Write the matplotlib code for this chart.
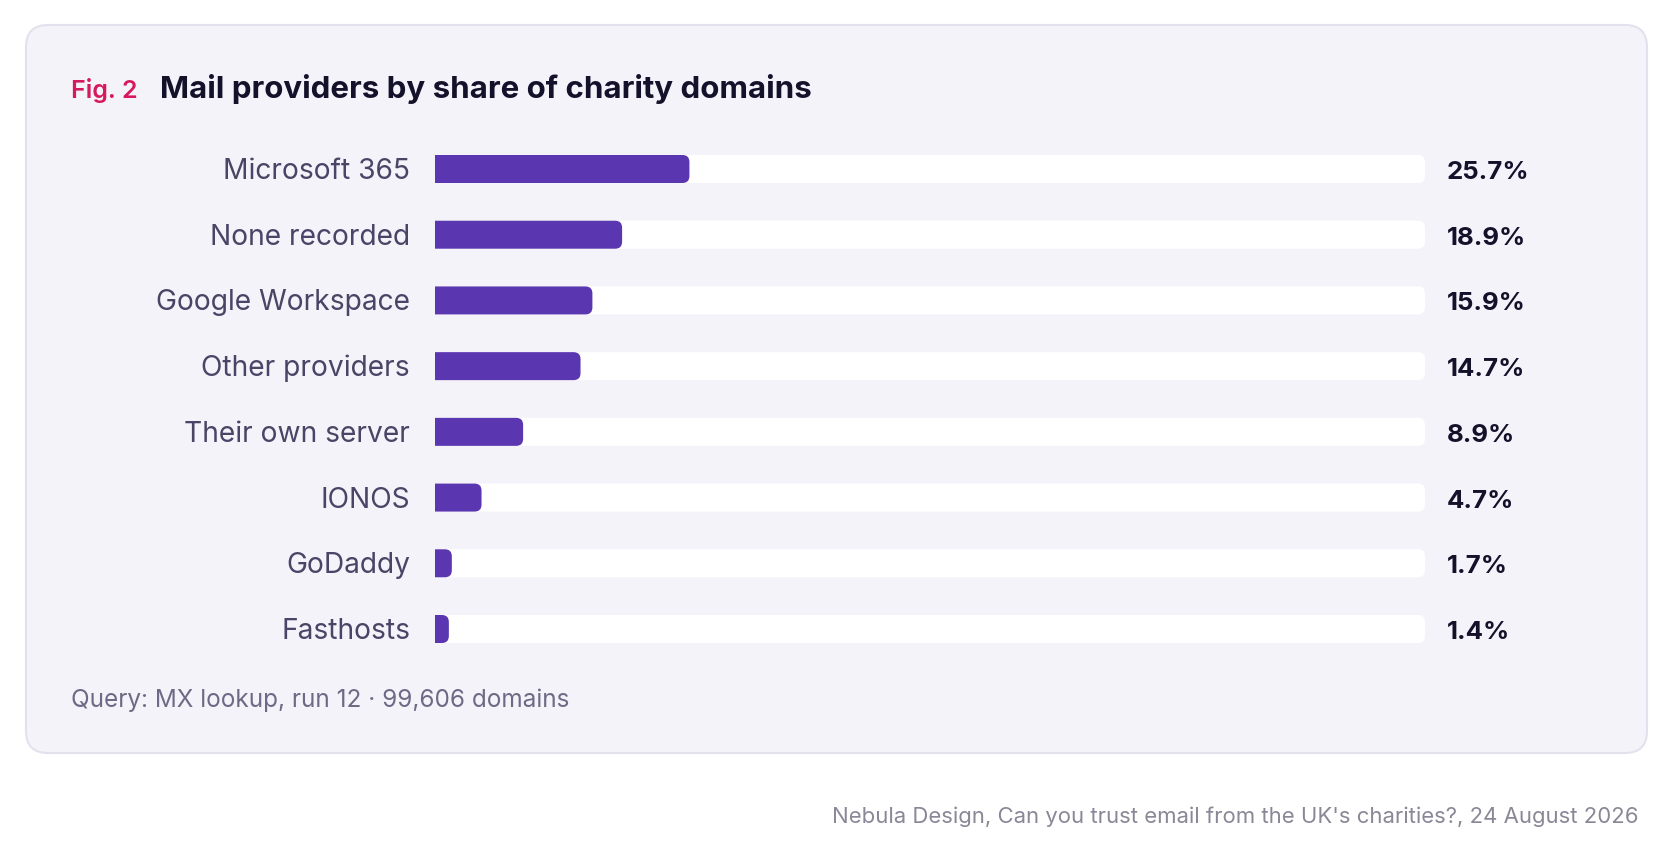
import matplotlib
matplotlib.use("Agg")
import matplotlib.pyplot as plt
from matplotlib.patches import FancyBboxPatch

# ---- data ----
categories = ["Microsoft 365", "None recorded", "Google Workspace", "Other providers",
              "Their own server", "IONOS", "GoDaddy", "Fasthosts"]
shares = [25.7, 18.9, 15.9, 14.7, 8.9, 4.7, 1.7, 1.4]
value_labels = ["25.7%", "18.9%", "15.9%", "14.7%", "8.9%", "4.7%", "1.7%", "1.4%"]
fig_label = "Fig. 2"
title = "Mail providers by share of charity domains"
note = "Query: MX lookup, run 12 \u00b7 99,606 domains"
source = "Nebula Design, Can you trust email from the UK's charities?, 24 August 2026"

FONT = ["Inter", "DejaVu Sans"]
W, H = 1672, 853
fig = plt.figure(figsize=(W / 100, H / 100), dpi=100)
fig.patch.set_facecolor("white")

# background axes in pixel coordinates
bg = fig.add_axes([0, 0, 1, 1])
bg.set_xlim(0, W)
bg.set_ylim(H, 0)
bg.axis("off")
card = FancyBboxPatch((26, 26), 1647 - 26, 754 - 26,
                      boxstyle="round,pad=0,rounding_size=22",
                      facecolor="#f5f3fa", edgecolor="#e4e1ee", linewidth=1.5)
bg.add_patch(card)

bg.text(71, 97.5, fig_label, color="#d6195b", fontsize=18, fontweight="semibold",
        family=FONT, va="baseline", ha="left")
bg.text(160, 97.5, title, color="#14112a", fontsize=22.5, fontweight="bold",
        family=FONT, va="baseline", ha="left")
bg.text(71, 707.5, note, color="#6e6a85", fontsize=17.5, family=FONT,
        va="baseline", ha="left")
bg.text(1639, 823, source, color="#8a8797", fontsize=15.9, family=FONT,
        va="baseline", ha="right")

# bar axes: track from x=435..1425 px, rows centred 169..629 px
n = len(categories)
row = (629 - 169) / (n - 1)
top_px = 169 - row / 2 + 1
bot_px = 629 + row / 2 + 1
ax = fig.add_axes([435 / W, 1 - bot_px / H, (1425 - 435) / W, (bot_px - top_px) / H])
ax.set_xlim(0, 100)
ax.set_ylim(n - 0.5, -0.5)
ax.axis("off")
ax.patch.set_alpha(0)

px_x = (1425 - 435) / 100.0
px_y = row
bar_h = 28 / row
r = 7 / px_x
asp = px_x / px_y
base_off = 9.0 / px_y

for i, (cat, v, lab) in enumerate(zip(categories, shares, value_labels)):
    y0 = i - bar_h / 2
    # track (left rounding falls outside the axes and is clipped -> square left edge)
    ax.add_patch(FancyBboxPatch((-r, y0), 100 + r, bar_h,
                                boxstyle=f"round,pad=0,rounding_size={r}",
                                mutation_aspect=asp, facecolor="white",
                                edgecolor="none", clip_on=True))
    # value bar
    ax.add_patch(FancyBboxPatch((-r, y0), v + r, bar_h,
                                boxstyle=f"round,pad=0,rounding_size={r}",
                                mutation_aspect=asp, facecolor="#5a36b1",
                                edgecolor="none", clip_on=True))
    ax.text(-25 / px_x, i + base_off, cat, ha="right", va="baseline", color="#4a4566",
            fontsize=20.3, family=FONT, clip_on=False)
    ax.text(100 + 22 / px_x, i + base_off, lab, ha="left", va="baseline", color="#14112a",
            fontsize=18.6, fontweight="bold", family=FONT, clip_on=False)

fig.savefig("out.png", dpi=100, facecolor="white")
